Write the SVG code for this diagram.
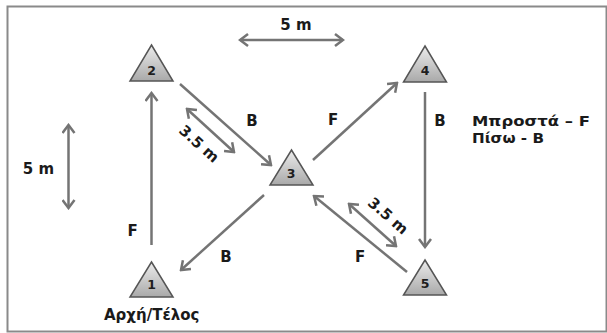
<svg xmlns="http://www.w3.org/2000/svg" width="607" height="333" viewBox="0 0 607 333">
<style>
.lbl{font-family:"DejaVu Sans","Liberation Sans",sans-serif;font-weight:bold;font-size:15px;fill:#1a1a1a}
.leg{font-family:"DejaVu Sans","Liberation Sans",sans-serif;font-weight:bold;font-size:14px;fill:#1a1a1a}
.num{font-family:"DejaVu Sans","Liberation Sans",sans-serif;font-weight:bold;font-size:12.5px;fill:#1e1e1e;text-anchor:middle}
.tri{fill:url(#g);stroke:#555;stroke-width:1.5;stroke-linejoin:miter}
.ar{stroke:#747474;stroke-width:2.5;fill:none;marker-end:url(#ah)}
.dim{stroke:#747474;stroke-width:2.5;fill:none;marker-end:url(#ah);marker-start:url(#ah)}
</style>
<defs>
<linearGradient id="g" x1="0" y1="0" x2="0" y2="1">
<stop offset="0" stop-color="#ececec"/>
<stop offset="1" stop-color="#a9a9a9"/>
</linearGradient>
<marker id="ah" viewBox="0 0 12 14" refX="10" refY="7" markerWidth="12" markerHeight="14" markerUnits="userSpaceOnUse" orient="auto-start-reverse">
<path d="M2,1 L10,7 L2,13" fill="none" stroke="#747474" stroke-width="2.5"/>
</marker>
</defs>
<rect x="7.5" y="6.5" width="599" height="325" fill="#fff" stroke="#8a8a8a" stroke-width="2"/>
<g id="connectors">
<line class="ar" x1="151.5" y1="245" x2="151.5" y2="93"/>
<line class="ar" x1="180" y1="84" x2="271" y2="165"/>
<line class="ar" x1="313" y1="160" x2="397" y2="83"/>
<line class="ar" x1="425" y1="92" x2="425" y2="247"/>
<line class="ar" x1="407" y1="272" x2="314" y2="196"/>
<line class="ar" x1="264" y1="195" x2="181" y2="270"/>
<line class="dim" x1="240" y1="40" x2="343" y2="40"/>
<line class="dim" x1="68.5" y1="125" x2="68.5" y2="208"/>
<line class="dim" x1="187" y1="109" x2="234" y2="152"/>
<line class="dim" x1="349" y1="204" x2="396" y2="246"/>
</g>
<g id="n1"><path class="tri" d="M151.5,262 L173,297 L130,297 Z"/><text class="num" x="151.5" y="289">1</text></g>
<g id="n2"><path class="tri" d="M151.5,45 L173,81 L130,81 Z"/><text class="num" x="151.5" y="75">2</text></g>
<g id="n3"><path class="tri" d="M291.5,150 L313,185 L270,185 Z"/><text class="num" x="291" y="178">3</text></g>
<g id="n4"><path class="tri" d="M425,46 L446.5,82 L403.5,82 Z"/><text class="num" x="425" y="75">4</text></g>
<g id="n5"><path class="tri" d="M425,260 L446.5,295 L403.5,295 Z"/><text class="num" x="425" y="288">5</text></g>
<g id="labels">
<text class="lbl" x="296" y="30" text-anchor="middle">5 m</text>
<text class="lbl" x="38.5" y="174" text-anchor="middle">5 m</text>
<text class="lbl" x="199" y="144" text-anchor="middle" dominant-baseline="central" font-size="14" transform="rotate(42 199 144)">3.5 m</text>
<text class="lbl" x="388" y="216" text-anchor="middle" dominant-baseline="central" font-size="14" transform="rotate(41 388 216)">3.5 m</text>
<text class="lbl" x="252" y="125.5" text-anchor="middle">B</text>
<text class="lbl" x="440" y="125.5" text-anchor="middle">B</text>
<text class="lbl" x="226" y="261.5" text-anchor="middle">B</text>
<text class="lbl" x="333" y="125" text-anchor="middle">F</text>
<text class="lbl" x="132.5" y="236" text-anchor="middle">F</text>
<text class="lbl" x="360" y="261.5" text-anchor="middle">F</text>
<text class="leg" x="472" y="126" textLength="118" lengthAdjust="spacingAndGlyphs">Μπροστά – F</text>
<text class="leg" x="472" y="142.5" textLength="72" lengthAdjust="spacingAndGlyphs">Πίσω - B</text>
<text class="lbl" x="104" y="320">Αρχή/Τέλος</text>
</g>
</svg>
